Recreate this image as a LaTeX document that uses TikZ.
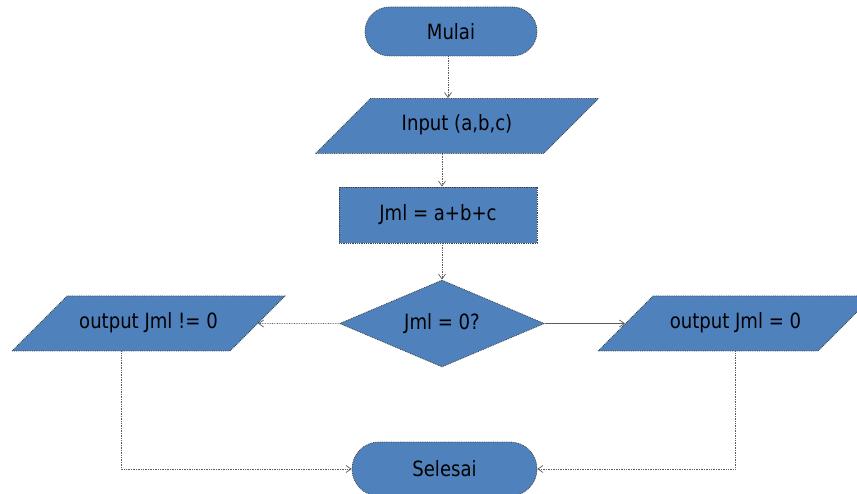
\documentclass[tikz,border=0pt]{standalone}
\usepackage{fontspec}
\setmainfont{DejaVu Sans}[FakeStretch=0.86]
\usetikzlibrary{shapes.geometric,shapes.misc,arrows.meta}
\definecolor{boxblue}{HTML}{4F81BD}
\definecolor{linegray}{HTML}{5A5A5A}
\begin{document}
\begin{tikzpicture}[x=1pt,y=-1pt,
  base/.style={fill=boxblue, draw=black!75, densely dotted, line width=0.8pt,
    font=\fontsize{21}{24}\selectfont, text=black, inner sep=0pt},
  term/.style={base, rounded rectangle},
  io/.style={base, trapezium, trapezium left angle=45, trapezium right angle=135,
    trapezium stretches body, text height=15pt, text depth=5pt, inner ysep=17.5pt},
  proc/.style={base, rectangle},
  dec/.style={base, diamond, aspect=2.36},
  conn/.style={draw=linegray, line width=0.7pt, densely dotted,
    -{Straight Barb[length=5pt,width=7pt]}}
]
\useasboundingbox (0,0) rectangle (857,494);

\node[term, minimum width=172pt, minimum height=49pt] (start) at (451,31.5) {Mulai};
\node[io, minimum width=283pt] (input) at (457,126) {Input (a,b,c)};
\node[proc, minimum width=198pt, minimum height=56pt] (calc) at (438,215) {Jml = a+b+c};
\node[dec, minimum width=205pt, minimum height=87pt] (dec) at (442,323.5) {Jml = 0?};
\node[io, minimum width=273pt] (outne) at (148.5,323.5) {output Jml != 0};
\node[io, minimum width=275pt] (outeq) at (735.5,323.5) {output Jml = 0};
\node[term, minimum width=185pt, minimum height=54pt] (end) at (444.5,469) {Selesai};

\coordinate (x1) at (448,0);
\coordinate (x2) at (442,0);
\coordinate (xl) at (121,0);
\coordinate (xr) at (735,0);

\draw[conn] (start.south -| x1) -- (input.north -| x1);
\draw[conn] (input.south -| x2) -- (calc.north -| x2);
\draw[conn] (calc.south -| x2) -- (dec.north);
\draw[conn] (dec.west) -- (outne.east);
\draw[conn, solid] (dec.east) -- (outeq.west);
\draw[conn] (outne.south -| xl) |- (end.west);
\draw[conn] (outeq.south -| xr) |- (end.east);
\end{tikzpicture}
\end{document}
